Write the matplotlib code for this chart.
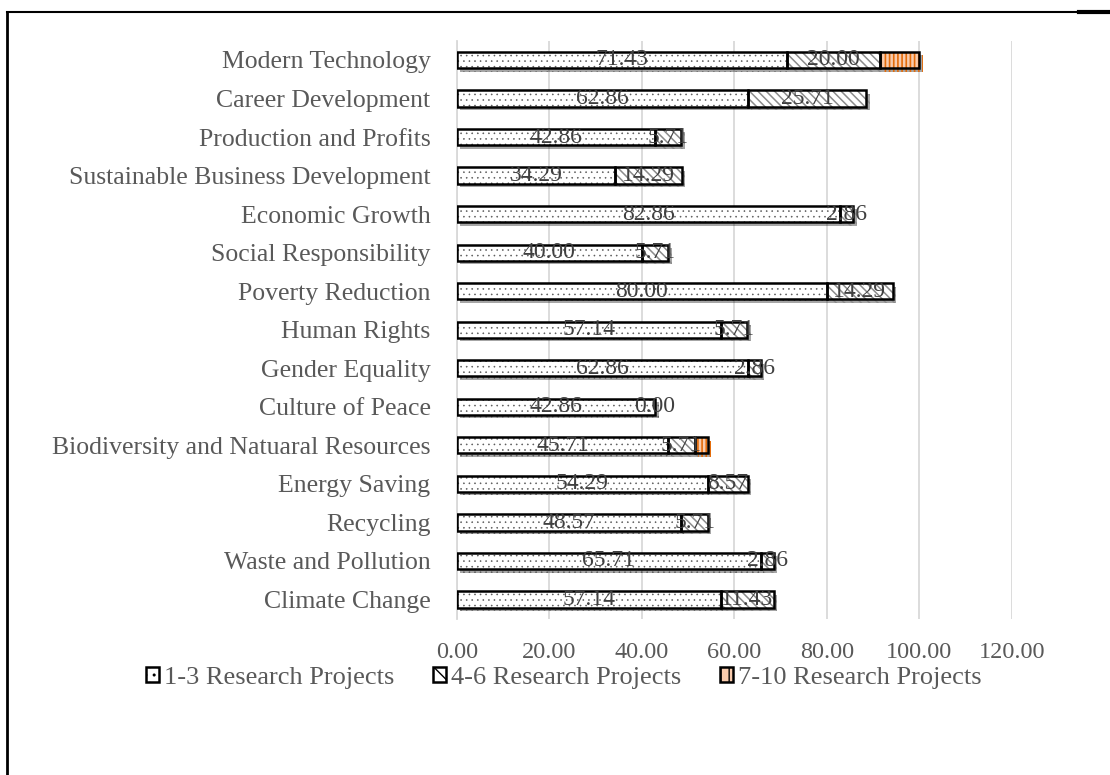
import matplotlib
matplotlib.use("Agg")
import matplotlib.pyplot as plt
from matplotlib.patches import Patch
from matplotlib.lines import Line2D
import matplotlib.patheffects as pe
import numpy as np

categories = ["Modern Technology", "Career Development", "Production and Profits",
              "Sustainable Business Development", "Economic Growth", "Social Responsibility",
              "Poverty Reduction", "Human Rights", "Gender Equality", "Culture of Peace",
              "Biodiversity and Natuaral Resources", "Energy Saving", "Recycling",
              "Waste and Pollution", "Climate Change"]
s_1_3 = [71.43, 62.86, 42.86, 34.29, 82.86, 40.00, 80.00, 57.14, 62.86, 42.86, 45.71, 54.29, 48.57, 65.71, 57.14]
s_4_6 = [20.00, 25.71, 5.71, 14.29, 2.86, 5.71, 14.29, 5.71, 2.86, 0.00, 5.71, 8.57, 5.71, 2.86, 11.43]
s_7_10 = [8.57, 0, 0, 0, 0, 0, 0, 0, 0, 0, 2.86, 0, 0, 0, 0]
series_names = ["1-3 Research Projects", "4-6 Research Projects", "7-10 Research Projects"]
xticks = [0, 20, 40, 60, 80, 100, 120]

plt.rcParams['font.family'] = ['Liberation Serif', 'DejaVu Serif']

fig = plt.figure(figsize=(11.1, 7.75), dpi=100)
ax = fig.add_axes([0.4117, 0.2016, 0.4997, 0.7459])

y = np.arange(len(categories))
h = 0.42
s1 = np.array(s_1_3); s2 = np.array(s_4_6); s3 = np.array(s_7_10)

shadow = [pe.SimplePatchShadow(offset=(2.5, -2.5), shadow_rgbFace='k', alpha=0.35), pe.Normal()]

styles = [
    dict(face='white', hatchc='#595959', hatch='...', hlw=0.4),
    dict(face='white', hatchc='#8c8c8c', hatch='\\\\\\\\', hlw=1.1),
    dict(face='#f8cbad', hatchc='#e46c0a', hatch='||||', hlw=1.2),
]
lefts = [np.zeros_like(s1), s1, s1 + s2]
vals = [s1, s2, s3]
for v, l, st in zip(vals, lefts, styles):
    mask = v > 0
    with plt.rc_context({'hatch.linewidth': st['hlw']}):
        b = ax.barh(y[mask], v[mask], left=l[mask], height=h, color=st['face'],
                    edgecolor=st['hatchc'], hatch=st['hatch'], linewidth=0, zorder=3)
    for p in b:
        p.set_path_effects(shadow)
    ax.barh(y[mask], v[mask], left=l[mask], height=h, color='none',
            edgecolor='black', linewidth=1.8, zorder=4)

# data labels for first two series
for v, l in zip(vals[:2], lefts[:2]):
    for yi, vi, li in zip(y, v, l):
        ax.text(li + vi / 2, yi, f"{vi:.2f}", ha='center', va='center',
                fontsize=17, color='#404040', zorder=5)

ax.set_ylim(len(categories) - 0.5, -0.5)
ax.set_xlim(0, 120)
ax.set_xticks(xticks)
ax.set_xticklabels([f"{t:.2f}" for t in xticks])
ax.set_yticks(y)
ax.set_yticklabels(categories)
ax.tick_params(axis='x', length=0, pad=17, labelsize=17.5, labelcolor='#595959')
ax.tick_params(axis='y', length=0, pad=19, labelsize=18.5, labelcolor='#595959')
ax.grid(axis='x', color='#d9d9d9', linewidth=1.3, zorder=0)
ax.set_axisbelow(True)
for s in ['top', 'right', 'bottom']:
    ax.spines[s].set_visible(False)
ax.spines['left'].set_color('#d9d9d9')
ax.spines['left'].set_linewidth(1.3)

handles = []
for st in styles:
    with plt.rc_context({'hatch.linewidth': 1.0}):
        handles.append(Patch(facecolor=st['face'], edgecolor='black', hatch=st['hatch'][:2], linewidth=1.8))
fig.legend(handles, series_names, loc='center', bbox_to_anchor=(564 / 1110, 1 - 678 / 775),
           ncol=3, frameon=False, fontsize=19, labelcolor='#595959',
           handlelength=0.5, handleheight=0.5, handletextpad=0.2, columnspacing=1.45)

# outer frame
W, H = 1110, 775
fig.add_artist(Line2D([7 / W, 1], [1 - 12 / H, 1 - 12 / H], color='black', lw=1.5, transform=fig.transFigure))
fig.add_artist(Line2D([1079 / W, 1], [1 - 12 / H, 1 - 12 / H], color='black', lw=3, transform=fig.transFigure))
fig.add_artist(Line2D([7 / W, 7 / W], [1 - 12 / H, 0], color='black', lw=2, transform=fig.transFigure))

fig.savefig("out.png", dpi=100)
